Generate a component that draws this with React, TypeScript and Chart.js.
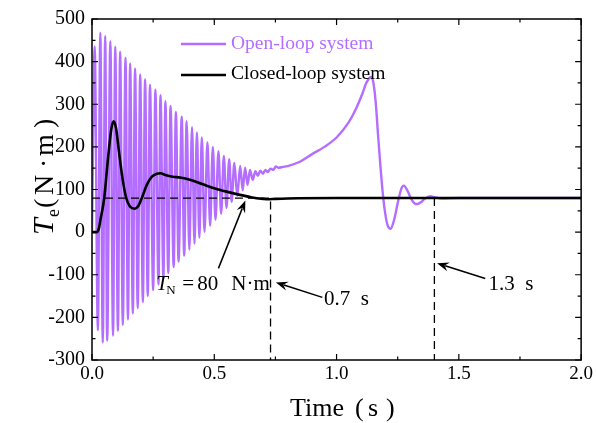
import React, { useEffect, useRef } from 'react';
import { Chart, registerables } from 'chart.js';

Chart.register(...registerables);

// ---- Data ----
const xTickLabels = ['0.0', '0.5', '1.0', '1.5', '2.0'];
const yTickLabels = ['-300', '-200', '-100', '0', '100', '200', '300', '400', '500'];

// Open-loop: oscillating start (alternating peaks / troughs)
const openOscTime = [
  0, 0.011, 0.024, 0.034, 0.044, 0.054, 0.062, 0.075, 0.086, 0.095, 0.106, 0.115, 0.126,
  0.137, 0.147, 0.156, 0.167, 0.176, 0.187, 0.197, 0.208, 0.217, 0.228, 0.237, 0.25,
  0.259, 0.272, 0.28, 0.292, 0.3, 0.312, 0.321, 0.334, 0.343, 0.354, 0.367, 0.377,
  0.387, 0.398, 0.409, 0.419, 0.429, 0.439, 0.449, 0.46, 0.472, 0.483, 0.494, 0.505,
  0.517, 0.528, 0.539, 0.55, 0.561, 0.571, 0.582, 0.594, 0.606, 0.616, 0.626, 0.636,
  0.646, 0.657, 0.668, 0.678, 0.688, 0.699, 0.709, 0.719, 0.73, 0.741, 0.752, 0.763,
];
const openOscTorque = [
  0, 435, -230, 468, -259, 460, -255, 448, -243, 435, -232, 423, -218,
  409, -205, 396, -191, 384, -178, 370, -164, 359, -150, 346, -136,
  334, -123, 321, -109, 307, -96, 296, -82, 282, -69, 271, -55,
  260, -41, 246, -27, 234, -13, 222, 1, 211, 15, 200, 29,
  190, 43, 179, 57, 171, 71, 162, 85, 155, 98, 151, 111,
  146, 123, 143, 132, 144, 137, 146, 141, 149, 146, 154, 151,
];
// Open-loop: smooth tail
const openTailTime = [
  0.78, 0.8, 0.85, 0.9, 0.95, 1.0, 1.05, 1.08, 1.105, 1.12, 1.13, 1.14, 1.15, 1.16,
  1.17, 1.18, 1.19, 1.2, 1.21, 1.221, 1.235, 1.25, 1.265, 1.275, 1.29, 1.305, 1.32,
  1.33, 1.345, 1.36, 1.384, 1.4, 1.43, 1.5, 2.0,
];
const openTailTorque = [
  153, 155, 165, 183, 200, 222, 258, 290, 324, 348, 358, 364, 352, 305,
  225, 150, 85, 40, 14, 8, 28, 68, 102, 109, 97, 78, 67,
  66, 70, 78, 84, 82, 79, 80, 80,
];

// Closed-loop
const closedTime = [
  0, 0.02, 0.028, 0.035, 0.05, 0.065, 0.078, 0.088, 0.098, 0.11, 0.125, 0.14, 0.155,
  0.175, 0.19, 0.205, 0.225, 0.245, 0.265, 0.28, 0.3, 0.33, 0.36, 0.4, 0.45, 0.5,
  0.55, 0.6, 0.65, 0.7, 0.72, 0.75, 0.8, 1.0, 1.5, 2.0,
];
const closedTorque = [
  0, 0, 8, 30, 80, 170, 238, 260, 245, 190, 125, 80, 60,
  55, 62, 82, 112, 130, 137, 138, 134, 130, 128, 123, 113, 103,
  95, 88, 82, 78, 77, 78, 79, 80, 80, 80,
];

const ratedTorque = 80;
const markTimes = [0.73, 1.4];

const FONT = '"Liberation Serif", "Times New Roman", serif';
const PURPLE = '#B46EFF';

function drawArrow(ctx: CanvasRenderingContext2D, x1: number, y1: number, x2: number, y2: number) {
  const a = Math.atan2(y2 - y1, x2 - x1);
  const L = 12, W = 4.5;
  const c = Math.cos(a), s = Math.sin(a);
  ctx.beginPath();
  ctx.moveTo(x1, y1);
  ctx.lineTo(x2 - L * 0.7 * c, y2 - L * 0.7 * s);
  ctx.stroke();
  ctx.beginPath();
  ctx.moveTo(x2, y2);
  ctx.lineTo(x2 - L * c + W * s, y2 - L * s - W * c);
  ctx.lineTo(x2 - L * 0.65 * c, y2 - L * 0.65 * s);
  ctx.lineTo(x2 - L * c - W * s, y2 - L * s + W * c);
  ctx.closePath();
  ctx.fill();
}

const decorPlugin = {
  id: 'decor',
  afterDatasetsDraw(chart: any) {
    const { ctx, chartArea: ca, scales } = chart;
    const xs = scales.x, ys = scales.y;
    const X = (v: number) => xs.getPixelForValue(v);
    const Y = (v: number) => ys.getPixelForValue(v);
    ctx.save();

    // dashed guide lines
    ctx.strokeStyle = '#000';
    ctx.lineWidth = 1.3;
    ctx.setLineDash([8, 5]);
    ctx.beginPath();
    ctx.moveTo(ca.left, Y(ratedTorque));
    ctx.lineTo(X(markTimes[0]), Y(ratedTorque));
    ctx.moveTo(X(markTimes[0]), Y(72));
    ctx.lineTo(X(markTimes[0]), ca.bottom);
    ctx.moveTo(X(markTimes[1]), Y(ratedTorque));
    ctx.lineTo(X(markTimes[1]), ca.bottom);
    ctx.stroke();
    ctx.setLineDash([]);

    // frame
    ctx.lineWidth = 1.5;
    ctx.strokeRect(ca.left, ca.top, ca.right - ca.left, ca.bottom - ca.top);

    // inward ticks
    ctx.lineWidth = 1.2;
    ctx.beginPath();
    for (let v = 0; v <= 2.0001; v += 0.25) {
      const major = Math.abs(v / 0.5 - Math.round(v / 0.5)) < 1e-6;
      const len = major ? 6 : 3.5;
      const px = X(v);
      ctx.moveTo(px, ca.bottom); ctx.lineTo(px, ca.bottom - len);
      ctx.moveTo(px, ca.top); ctx.lineTo(px, ca.top + len);
    }
    for (let v = -300; v <= 500; v += 50) {
      const major = v % 100 === 0;
      const len = major ? 6 : 3.5;
      const py = Y(v);
      ctx.moveTo(ca.left, py); ctx.lineTo(ca.left + len, py);
      ctx.moveTo(ca.right, py); ctx.lineTo(ca.right - len, py);
    }
    ctx.stroke();

    // annotations
    ctx.fillStyle = '#000';
    ctx.strokeStyle = '#000';
    ctx.lineWidth = 1.5;
    drawArrow(ctx, X(0.517), Y(-85), X(0.627), Y(74));
    drawArrow(ctx, X(0.942), Y(-153), X(0.752), Y(-118));
    drawArrow(ctx, X(1.608), Y(-109), X(1.411), Y(-73));

    ctx.textBaseline = 'alphabetic';
    ctx.textAlign = 'left';
    const tx = X(0.263), ty = Y(-135);
    ctx.font = `italic 21px ${FONT}`;
    ctx.fillText('T', tx, ty);
    ctx.font = `13px ${FONT}`;
    ctx.fillText('N', tx + 10, ty + 4);
    ctx.font = `21px ${FONT}`;
    ctx.fillText('=', tx + 26, ty);
    ctx.fillText('80', tx + 41, ty);
    ctx.fillText('N·m', tx + 75, ty);
    ctx.fillText('0.7  s', X(0.949), Y(-171));
    ctx.fillText('1.3  s', X(1.621), Y(-135));

    // legend
    ctx.lineWidth = 2.5;
    ctx.strokeStyle = PURPLE;
    ctx.beginPath(); ctx.moveTo(181, 44); ctx.lineTo(226, 44); ctx.stroke();
    ctx.strokeStyle = '#000';
    ctx.beginPath(); ctx.moveTo(181, 75); ctx.lineTo(226, 75); ctx.stroke();
    ctx.font = `19.5px ${FONT}`;
    ctx.textBaseline = 'middle';
    ctx.fillStyle = PURPLE;
    ctx.fillText('Open-loop system', 231, 44);
    ctx.fillStyle = '#000';
    ctx.fillText('Closed-loop system', 231, 74);

    // x title
    ctx.textBaseline = 'alphabetic';
    ctx.font = `26px ${FONT}`;
    ctx.fillText('Time', 290, 416);
    ctx.fillText('(', 355, 416);
    ctx.fillText('s', 368, 416);
    ctx.fillText(')', 386, 416);

    // y title (rotated)
    ctx.translate(53, 175);
    ctx.rotate(-Math.PI / 2);
    let cx = -60;
    ctx.font = `italic 30px ${FONT}`;
    ctx.fillText('T', cx, 0);
    cx += 18;
    ctx.font = `18px ${FONT}`;
    ctx.fillText('e', cx, 6);
    cx += 9;
    ctx.font = `28px ${FONT}`;
    ctx.fillText('(', cx, 0); cx += 13;
    ctx.fillText('N', cx, 0); cx += 27;
    ctx.fillText('·', cx, 0); cx += 12;
    ctx.fillText('m', cx, 0); cx += 28;
    ctx.fillText(')', cx, 0);
    ctx.restore();
  },
};

export default function App() {
  const ref = useRef<HTMLCanvasElement>(null);
  useEffect(() => {
    const canvas = ref.current!;
    const openData = openOscTime.map((t, i) => ({ x: t, y: openOscTorque[i] }))
      .concat(openTailTime.map((t, i) => ({ x: t, y: openTailTorque[i] })));
    const closedData = closedTime.map((t, i) => ({ x: t, y: closedTorque[i] }));
    const chart = new Chart(canvas, {
      type: 'line',
      data: {
        datasets: [
          {
            label: 'Closed-loop system',
            data: closedData,
            borderColor: '#000',
            borderWidth: 2.6,
            pointRadius: 0,
            cubicInterpolationMode: 'monotone',
            fill: false,
          },
          {
            label: 'Open-loop system',
            data: openData,
            borderColor: PURPLE,
            borderWidth: 2.4,
            pointRadius: 0,
            cubicInterpolationMode: 'monotone',
            fill: false,
          },
        ],
      },
      options: {
        animation: false,
        responsive: false,
        events: [],
        layout: { padding: { top: 18, right: 13, left: 0, bottom: 0 } },
        plugins: { legend: { display: false }, tooltip: { enabled: false } },
        scales: {
          x: {
            type: 'linear',
            min: 0,
            max: 2,
            grid: { display: false, drawTicks: false },
            border: { display: false },
            ticks: {
              stepSize: 0.5,
              padding: 3,
              color: '#000',
              font: { family: FONT, size: 19 },
              callback: (v: any) => xTickLabels[Math.round(Number(v) / 0.5)] ?? '',
              maxRotation: 0,
            },
            afterFit: (s: any) => { s.height = 63; },
          },
          y: {
            min: -300,
            max: 500,
            grid: { display: false, drawTicks: false },
            border: { display: false },
            ticks: {
              stepSize: 100,
              padding: 7,
              color: '#000',
              font: { family: FONT, size: 20 },
              callback: (v: any) => yTickLabels[Math.round((Number(v) + 300) / 100)] ?? '',
            },
            afterFit: (s: any) => { s.width = 92; },
          },
        },
      },
      plugins: [decorPlugin],
    } as any);
    return () => chart.destroy();
  }, []);
  return (
    <div style={{ position: 'absolute', left: 0, top: 0, width: 596, height: 423, background: '#fff' }}>
      <canvas ref={ref} width={596} height={423} style={{ display: 'block', width: 596, height: 423 }} />
    </div>
  );
}
